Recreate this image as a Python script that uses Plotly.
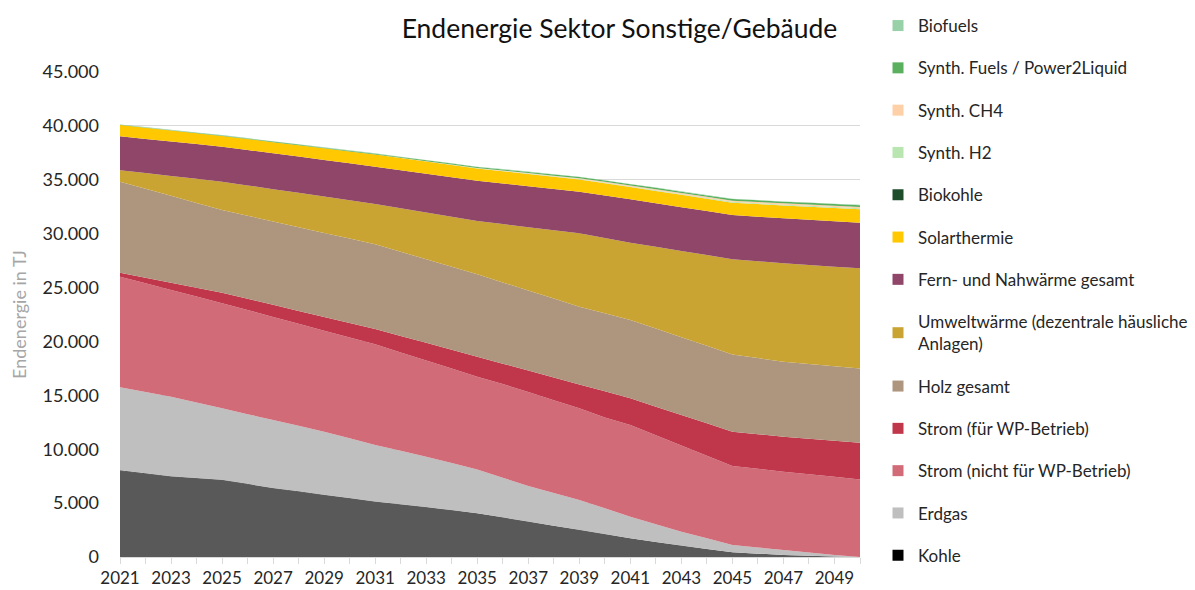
import plotly.graph_objects as go

years = list(range(2021, 2051))

heizoel = [8010, 7730, 7460, 7300, 7140, 6760, 6370, 6060, 5750, 5440,
           5130, 4870, 4610, 4330, 4050, 3660, 3280, 2890, 2500, 2120,
           1730, 1390, 1050, 740, 430, 310, 190, 110, 40, 0]
kohle = [30, 30, 30, 30, 30, 30, 30, 30, 30, 30,
         20, 20, 20, 20, 20, 20, 20, 20, 20, 20,
         10, 10, 10, 10, 10, 0, 0, 0, 0, 0]
erdgas = [7700, 7550, 7390, 7010, 6620, 6460, 6310, 6080, 5850, 5540,
          5240, 4960, 4680, 4370, 4060, 3680, 3290, 3030, 2770, 2380,
          2000, 1650, 1290, 980, 670, 570, 460, 310, 150, 0]
strom_nicht_wp = [10260, 10080, 9890, 9820, 9750, 9660, 9560, 9470, 9370, 9360,
                  9340, 9130, 8920, 8760, 8600, 8690, 8710, 8610, 8510, 8430,
                  8510, 8250, 8000, 7670, 7330, 7300, 7270, 7260, 7250, 7200]
strom_wp = [380, 530, 680, 830, 980, 1050, 1130, 1190, 1270, 1340,
            1420, 1530, 1640, 1750, 1860, 1890, 2000, 2100, 2210, 2420,
            2470, 2650, 2830, 3000, 3190, 3220, 3240, 3300, 3350, 3400]
holz = [8440, 8240, 8060, 7860, 7680, 7710, 7730, 7770, 7800, 7830,
        7860, 7810, 7750, 7700, 7640, 7540, 7430, 7330, 7220, 7240,
        7270, 7240, 7220, 7200, 7170, 7060, 6960, 6930, 6920, 6900]
umweltwaerme = [1060, 1460, 1840, 2240, 2620, 2810, 3000, 3190, 3370, 3560,
                3740, 4040, 4340, 4640, 4940, 5410, 5870, 6340, 6800, 6990,
                7170, 7590, 7990, 8410, 8820, 8980, 9130, 9180, 9230, 9280]
fernwaerme = [3150, 3170, 3200, 3220, 3250, 3280, 3320, 3360, 3400, 3430,
              3470, 3530, 3610, 3670, 3740, 3770, 3810, 3830, 3870, 3950,
              4030, 4050, 4070, 4090, 4110, 4140, 4170, 4200, 4210, 4240]
solarthermie = [1050, 1040, 1020, 1010, 1000, 1020, 1040, 1060, 1080, 1100,
                1120, 1120, 1120, 1130, 1130, 1130, 1130, 1130, 1130, 1130,
                1130, 1140, 1140, 1140, 1150, 1170, 1190, 1210, 1230, 1240]
biokohle = [0] * 30
synth_h2 = [0, 0, 0, 0, 0, 0, 0, 0, 0, 0,
            5, 10, 15, 20, 25, 30, 35, 40, 45, 50,
            55, 60, 65, 70, 75, 80, 83, 86, 88, 90]
synth_ch4 = [0, 0, 0, 0, 0, 0, 0, 0, 0, 0,
             10, 15, 20, 25, 30, 40, 50, 60, 70, 80,
             90, 95, 100, 105, 110, 115, 118, 121, 124, 127]
synth_fuels = [20, 25, 30, 35, 40, 45, 50, 55, 60, 65,
               70, 75, 80, 85, 90, 95, 100, 105, 110, 115,
               120, 125, 130, 135, 140, 145, 150, 155, 160, 165]
biofuels = [40, 40, 40, 40, 40, 40, 40, 40, 40, 40,
            35, 35, 35, 35, 35, 35, 35, 35, 35, 35,
            30, 30, 30, 30, 30, 30, 30, 30, 30, 30]

# bottom -> top (stack order)
series = [
    ("Heizöl", heizoel, "#595959", False),
    ("Kohle", kohle, "#000000", True),
    ("Erdgas", erdgas, "#bfbfbf", True),
    ("Strom (nicht für WP-Betrieb)", strom_nicht_wp, "#d26b78", True),
    ("Strom (für WP-Betrieb)", strom_wp, "#c0374c", True),
    ("Holz gesamt", holz, "#ae967e", True),
    ("Umweltwärme (dezentrale häusliche<br>Anlagen)", umweltwaerme, "#c9a433", True),
    ("Fern- und Nahwärme gesamt", fernwaerme, "#8f4668", True),
    ("Solarthermie", solarthermie, "#ffc800", True),
    ("Biokohle", biokohle, "#1e4d2b", True),
    ("Synth. H2", synth_h2, "#b9e6b0", True),
    ("Synth. CH4", synth_ch4, "#fdd0a8", True),
    ("Synth. Fuels / Power2Liquid", synth_fuels, "#5ab05e", True),
    ("Biofuels", biofuels, "#98d0a8", True),
]

FONT = "Lato, 'Open Sans', sans-serif"
W, H = 1187, 582  # page body has an 8px margin inside the 1195x590 window

fig = go.Figure()
for name, vals, col, show in series:
    fig.add_trace(go.Scatter(
        x=years, y=vals, name=name, stackgroup="one", mode="none",
        fillcolor=col, line=dict(width=0, shape="linear"),
        showlegend=False, hoverinfo="name+y",
    ))
# legend entries, top -> bottom (square markers like the reference)
for i, (name, vals, col, show) in enumerate(reversed(series)):
    if not show:
        continue
    fig.add_trace(go.Scatter(
        x=[None], y=[None], name=name, mode="markers",
        marker=dict(symbol="square", size=11, color=col),
        legendgroup=f"g{i:02d}", showlegend=True,
    ))

fig.update_layout(
    width=W, height=H,
    margin=dict(l=112, r=335, t=64, b=33, autoexpand=False),
    paper_bgcolor="white", plot_bgcolor="white",
    separators=",.",
    font=dict(family=FONT, size=17, color="#404040"),
    title=dict(text="Endenergie Sektor Sonstige/Gebäude",
               font=dict(family=FONT, size=26.5, color="#111111"),
               x=611.5 / W, xref="container", xanchor="center",
               y=0.965, yref="container", yanchor="middle"),
    legend=dict(xref="container", yref="container",
                x=870 / W, xanchor="left", y=1.0, yanchor="top",
                traceorder="grouped", tracegroupgap=17.2, maxheight=1,
                font=dict(family=FONT, size=17, color="#262626"),
                itemwidth=30, bgcolor="rgba(0,0,0,0)"),
    showlegend=True,
)
fig.update_xaxes(
    range=[2021, 2050], tickmode="linear", tick0=2021, dtick=2,
    ticks="outside", ticklen=6, tickcolor="#d9d9d9",
    showline=True, linecolor="#d9d9d9", linewidth=1,
    showgrid=False, zeroline=False, automargin=False,
    minor=dict(dtick=1, ticks="outside", ticklen=6, tickcolor="#d9d9d9", showgrid=False),
    tickfont=dict(family=FONT, size=17, color="#262626"),
)
fig.update_yaxes(
    range=[0, 45000], tickmode="linear", tick0=0, dtick=5000,
    tickformat=",d", showgrid=True, gridcolor="#d9d9d9", gridwidth=1,
    zeroline=False, showline=False, ticks="", ticklabelstandoff=20,
    automargin=False,
    tickfont=dict(family=FONT, size=18, color="#262626"),
    title=dict(text="Endenergie in TJ", font=dict(family=FONT, size=18, color="#a6a6a6"), standoff=14),
)
fig.write_html("out.html")
